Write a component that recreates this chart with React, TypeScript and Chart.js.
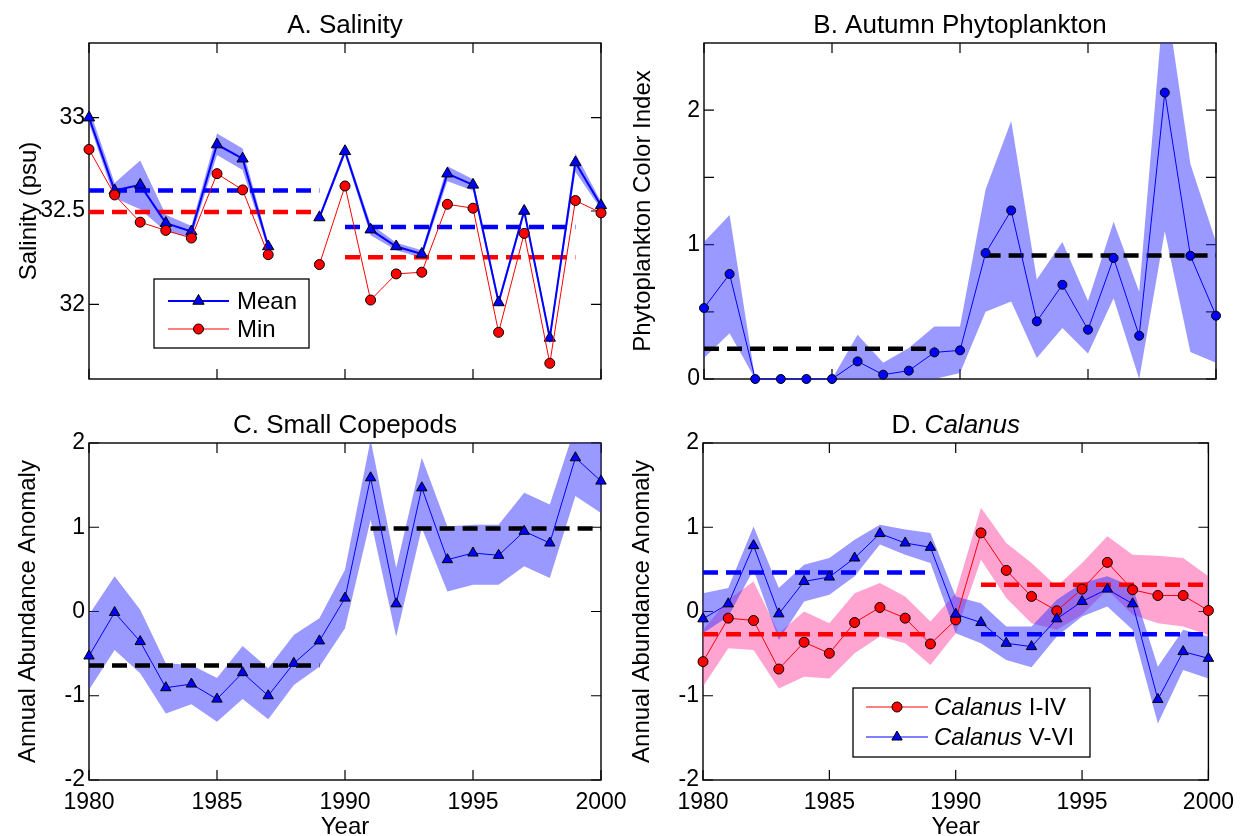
import React, { useEffect, useRef } from 'react';
import { Chart, registerables } from 'chart.js';

Chart.register(...registerables);

const FONT = "'Liberation Sans', Arial, Helvetica, sans-serif";
const PAGE_W = 1243;
const PAGE_H = 836;

const years = [1980, 1981, 1982, 1983, 1984, 1985, 1986, 1987, 1988, 1989, 1990, 1991, 1992, 1993, 1994, 1995, 1996, 1997, 1998, 1999, 2000];
const xTickValues = [1980, 1985, 1990, 1995, 2000];

// A. Salinity
const salinityMean = [33.0, 32.61, 32.64, 32.435, 32.39, 32.856, 32.78, 32.31, null, 32.465, 32.82, 32.4, 32.31, 32.27, 32.7, 32.64, 32.01, 32.5, 31.82, 32.76, 32.53];
const salinityMeanUpper = [33.05, 32.65, 32.77, 32.48, 32.42, 32.915, 32.835, 32.33, null, 32.48, 32.84, 32.43, 32.33, 32.29, 32.74, 32.67, 32.03, 32.52, 31.84, 32.81, 32.55];
const salinityMeanLower = [32.97, 32.57, 32.51, 32.39, 32.36, 32.8, 32.72, 32.29, null, 32.45, 32.8, 32.37, 32.29, 32.25, 32.66, 32.61, 31.99, 32.48, 31.8, 32.71, 32.51];
const salinityMin = [32.83, 32.586, 32.44, 32.396, 32.355, 32.7, 32.613, 32.266, null, 32.213, 32.634, 32.023, 32.163, 32.172, 32.536, 32.515, 31.85, 32.38, 31.684, 32.556, 32.49];
const salinityMeanPeriods = [32.61, 32.414];
const salinityMinPeriods = [32.494, 32.252];
const salinityPeriodYears = [[1980, 1989], [1990, 1999]];
const salinityTicks = [32, 32.5, 33];

// B. Autumn Phytoplankton
const phytoIndex = [0.528, 0.781, 0, 0, 0, 0, 0.131, 0.032, 0.062, 0.198, 0.213, 0.937, 1.254, 0.429, 0.701, 0.367, 0.9, 0.322, 2.131, 0.917, 0.471];
const phytoUpper = [1.02, 1.22, 0, 0, 0, 0, 0.33, 0.12, 0.23, 0.39, 0.39, 1.41, 1.92, 0.74, 1.02, 0.58, 1.17, 0.65, 2.9, 1.6, 1.02];
const phytoLower = [0.156, 0.34, 0, 0, 0, 0, 0.0, 0.0, 0.0, 0.0, 0.045, 0.5, 0.577, 0.156, 0.38, 0.19, 0.6, 0.0, 1.1, 0.2, 0.12];
const phytoPeriods = [0.226, 0.919];
const phytoPeriodYears = [[1980, 1989], [1991, 2000]];
const phytoTicks = [0, 0.5, 1, 1.5, 2];

// C. Small Copepods
const copepods = [-0.528, -0.012, -0.357, -0.905, -0.861, -1.04, -0.726, -1.0, -0.615, -0.349, 0.159, 1.587, 0.091, 1.468, 0.615, 0.694, 0.667, 0.952, 0.813, 1.825, 1.548];
const copepodsUpper = [-0.04, 0.417, 0.02, -0.615, -0.635, -0.79, -0.41, -0.675, -0.28, -0.08, 0.496, 2.04, 0.516, 1.825, 1.01, 1.03, 1.03, 1.41, 1.27, 2.2, 2.0];
const copepodsLower = [-0.93, -0.456, -0.734, -1.21, -1.1, -1.31, -1.04, -1.28, -0.873, -0.655, -0.198, 1.09, -0.3, 0.992, 0.238, 0.317, 0.317, 0.536, 0.397, 1.37, 1.17];
const copepodsPeriods = [-0.64, 0.984];
const periodYears = [[1980, 1989], [1991, 2000]];
const anomalyTicks = [-2, -1, 0, 1, 2];

// D. Calanus
const calanusI_IV = [-0.595, -0.079, -0.107, -0.683, -0.365, -0.496, -0.131, 0.048, -0.079, -0.385, -0.099, 0.933, 0.488, 0.179, 0.008, 0.266, 0.583, 0.258, 0.19, 0.19, 0.012];
const calanusI_IVUpper = [-0.22, 0.139, 0.357, -0.258, 0.0, -0.139, 0.218, 0.337, 0.179, -0.119, 0.218, 1.23, 0.813, 0.575, 0.298, 0.575, 0.893, 0.675, 0.663, 0.635, 0.417];
const calanusI_IVLower = [-0.89, -0.437, -0.456, -0.913, -0.774, -0.794, -0.496, -0.298, -0.377, -0.635, -0.258, 0.615, 0.159, -0.139, -0.218, -0.04, 0.258, -0.04, -0.139, -0.179, -0.278];
const calanusV_VI = [-0.087, 0.091, 0.782, -0.028, 0.357, 0.409, 0.635, 0.925, 0.813, 0.762, -0.032, -0.131, -0.377, -0.417, -0.087, 0.119, 0.266, 0.091, -1.044, -0.476, -0.556];
const calanusV_VIUpper = [0.218, 0.278, 1.01, 0.278, 0.556, 0.635, 0.853, 1.03, 0.972, 0.933, 0.179, 0.099, -0.179, -0.179, 0.139, 0.337, 0.417, 0.298, -0.655, -0.218, -0.298];
const calanusV_VILower = [-0.258, -0.06, 0.496, -0.337, 0.119, 0.198, 0.417, 0.794, 0.675, 0.575, -0.258, -0.377, -0.575, -0.663, -0.298, -0.06, 0.06, -0.218, -1.33, -0.694, -0.794];
const calanusI_IVPeriods = [-0.27, 0.317];
const calanusV_VIPeriods = [0.464, -0.27];

const BLUE = '#0000ff';
const RED = '#ff0000';
const BLUE_BAND = 'rgba(51,51,255,0.5)';
const PINK_BAND = 'rgba(255,51,153,0.45)';

const toXY = (vals: (number | null)[]) => years.map((x, i) => ({ x, y: vals[i] }));

function band(upper: (number | null)[], lower: (number | null)[], color: string, order: number) {
  return [
    { data: toXY(upper), borderColor: 'rgba(0,0,0,0)', borderWidth: 0, pointRadius: 0, fill: '+1', backgroundColor: color, order, clip: 0 },
    { data: toXY(lower), borderColor: 'rgba(0,0,0,0)', borderWidth: 0, pointRadius: 0, fill: false, order, clip: 0 },
  ];
}

function periods(values: number[], spans: number[][], color: string) {
  return values.map((v, i) => ({
    data: [{ x: spans[i][0], y: v }, { x: spans[i][1], y: v }],
    borderColor: color,
    borderWidth: 4.5,
    borderDash: [15, 8],
    pointRadius: 0,
    fill: false,
    order: 5,
    clip: false,
  }));
}

function series(vals: (number | null)[], color: string, width: number, style: string, radius: number, order: number) {
  return {
    data: toXY(vals),
    borderColor: color,
    borderWidth: width,
    pointStyle: style,
    pointRadius: radius,
    pointBackgroundColor: color,
    pointBorderColor: '#000',
    pointBorderWidth: 1,
    fill: false,
    order,
    clip: false,
    spanGaps: false,
  };
}

type Run = { text: string; italic?: boolean };
type LegendItem = { runs: Run[]; color: string; width: number; style: string; radius: number };
type PanelDef = {
  area: { l: number; t: number; r: number; b: number };
  yMin: number;
  yMax: number;
  yTicks: number[];
  yLabel: (v: number) => string;
  showX: boolean;
  datasets: any[];
  title: Run[];
  yTitle: string;
  yTitleX: number;
  legend?: { box: [number, number, number, number]; rows: number[]; line: [number, number]; textX: number; items: LegendItem[] };
};

function font(size: number, italic = false) {
  return `${italic ? 'italic ' : ''}${size}px ${FONT}`;
}

function drawRuns(ctx: CanvasRenderingContext2D, runs: Run[], x: number, y: number, size: number, align: 'center' | 'left') {
  let total = 0;
  const widths = runs.map((r) => {
    ctx.font = font(size, r.italic);
    const w = ctx.measureText(r.text).width;
    total += w;
    return w;
  });
  let cx = align === 'center' ? x - total / 2 : x;
  ctx.textAlign = 'left';
  runs.forEach((r, i) => {
    ctx.font = font(size, r.italic);
    ctx.fillText(r.text, cx, y);
    cx += widths[i];
  });
}

function drawMarker(ctx: CanvasRenderingContext2D, style: string, x: number, y: number, r: number, color: string) {
  ctx.beginPath();
  if (style === 'triangle') {
    let rad = 0;
    ctx.moveTo(x + Math.sin(rad) * r, y - Math.cos(rad) * r);
    rad += (2 * Math.PI) / 3;
    ctx.lineTo(x + Math.sin(rad) * r, y - Math.cos(rad) * r);
    rad += (2 * Math.PI) / 3;
    ctx.lineTo(x + Math.sin(rad) * r, y - Math.cos(rad) * r);
    ctx.closePath();
  } else {
    ctx.arc(x, y, r, 0, Math.PI * 2);
  }
  ctx.fillStyle = color;
  ctx.fill();
  ctx.strokeStyle = '#000';
  ctx.lineWidth = 1;
  ctx.stroke();
}

const YW = 70;
const XH = 50;

function Panel({ def }: { def: PanelDef }) {
  const ref = useRef<HTMLCanvasElement>(null);
  useEffect(() => {
    const canvas = ref.current!;
    const { area } = def;
    const plugin = {
      id: 'matlabFrame',
      beforeDatasetsDraw(chart: any) {
        const ctx: CanvasRenderingContext2D = chart.ctx;
        const { left, top, right, bottom } = chart.chartArea;
        const xs = chart.scales.x;
        const ys = chart.scales.y;
        ctx.save();
        ctx.strokeStyle = '#000';
        ctx.lineWidth = 1.4;
        ctx.strokeRect(left, top, right - left, bottom - top);
        ctx.lineWidth = 1.2;
        ctx.beginPath();
        for (const t of xs.ticks) {
          const px = xs.getPixelForValue(t.value);
          ctx.moveTo(px, bottom);
          ctx.lineTo(px, bottom - 10);
          ctx.moveTo(px, top);
          ctx.lineTo(px, top + 10);
        }
        for (const t of ys.ticks) {
          const py = ys.getPixelForValue(t.value);
          ctx.moveTo(left, py);
          ctx.lineTo(left + 10, py);
          ctx.moveTo(right, py);
          ctx.lineTo(right - 10, py);
        }
        ctx.stroke();
        ctx.restore();
      },
      afterDraw(chart: any) {
        const ctx: CanvasRenderingContext2D = chart.ctx;
        const { left, top, right, bottom } = chart.chartArea;
        const cx = (left + right) / 2;
        ctx.save();
        ctx.fillStyle = '#000';
        ctx.textBaseline = 'alphabetic';
        drawRuns(ctx, def.title, cx, top - 10, 26, 'center');
        // y title
        ctx.save();
        ctx.translate(def.yTitleX, (top + bottom) / 2);
        ctx.rotate(-Math.PI / 2);
        ctx.font = font(24);
        ctx.textAlign = 'center';
        ctx.textBaseline = 'middle';
        ctx.fillText(def.yTitle, 0, 0);
        ctx.restore();
        if (def.showX) {
          ctx.font = font(24);
          ctx.textAlign = 'center';
          ctx.textBaseline = 'alphabetic';
          ctx.fillText('Year', cx, PAGE_H - 2);
        }
        if (def.legend) {
          const lg = def.legend;
          const [bx0, by0, bx1, by1] = lg.box;
          ctx.fillStyle = '#fff';
          ctx.fillRect(bx0, by0, bx1 - bx0, by1 - by0);
          ctx.strokeStyle = '#000';
          ctx.lineWidth = 1.3;
          ctx.strokeRect(bx0, by0, bx1 - bx0, by1 - by0);
          lg.items.forEach((it, i) => {
            const y = lg.rows[i];
            ctx.strokeStyle = it.color;
            ctx.lineWidth = it.width;
            ctx.beginPath();
            ctx.moveTo(lg.line[0], y);
            ctx.lineTo(lg.line[1], y);
            ctx.stroke();
            drawMarker(ctx, it.style, (lg.line[0] + lg.line[1]) / 2, y, it.radius, it.color);
            ctx.fillStyle = '#000';
            ctx.textBaseline = 'middle';
            drawRuns(ctx, it.runs, lg.textX, y + 1, 24, 'left');
          });
        }
        ctx.restore();
      },
    };

    const chart = new Chart(canvas, {
      type: 'line',
      data: { datasets: def.datasets },
      options: {
        animation: false,
        responsive: false,
        maintainAspectRatio: false,
        events: [],
        layout: {
          autoPadding: false,
          padding: { left: area.l - YW, top: area.t, right: PAGE_W - area.r, bottom: PAGE_H - area.b - XH },
        },
        plugins: { legend: { display: false }, tooltip: { enabled: false }, title: { display: false } },
        elements: { line: { tension: 0 } },
        scales: {
          x: {
            type: 'linear',
            min: 1980,
            max: 2000,
            grid: { display: false, drawTicks: false },
            border: { display: false },
            afterBuildTicks: (s: any) => {
              s.ticks = xTickValues.map((v) => ({ value: v }));
            },
            afterFit: (s: any) => {
              s.height = XH;
            },
            ticks: {
              display: def.showX,
              maxRotation: 0,
              autoSkip: false,
              padding: 9,
              color: '#000',
              font: { family: FONT, size: 23 },
              callback: (v: any) => String(v),
            },
          },
          y: {
            type: 'linear',
            min: def.yMin,
            max: def.yMax,
            grid: { display: false, drawTicks: false },
            border: { display: false },
            afterBuildTicks: (s: any) => {
              s.ticks = def.yTicks.map((v) => ({ value: v }));
            },
            afterFit: (s: any) => {
              s.width = YW;
            },
            ticks: {
              autoSkip: false,
              padding: 4,
              color: '#000',
              font: { family: FONT, size: 23 },
              callback: (v: any) => def.yLabel(Number(v)),
            },
          },
        },
      },
      plugins: [plugin],
    } as any);
    return () => chart.destroy();
  }, [def]);
  return (
    <canvas
      ref={ref}
      width={PAGE_W}
      height={PAGE_H}
      style={{ position: 'absolute', left: 0, top: 0, width: PAGE_W, height: PAGE_H }}
    />
  );
}

const panels: PanelDef[] = [
  {
    area: { l: 89, t: 43, r: 601, b: 379 },
    yMin: 31.6,
    yMax: 33.4,
    yTicks: salinityTicks,
    yLabel: (v) => String(v),
    showX: false,
    title: [{ text: 'A. Salinity' }],
    yTitle: 'Salinity (psu)',
    yTitleX: 29,
    datasets: [
      ...band(salinityMeanUpper, salinityMeanLower, BLUE_BAND, 10),
      ...periods(salinityMeanPeriods, salinityPeriodYears, BLUE),
      ...periods(salinityMinPeriods, salinityPeriodYears, RED),
      series(salinityMean, BLUE, 2, 'triangle', 6.5, 2),
      series(salinityMin, RED, 1, 'circle', 5, 1),
    ],
    legend: {
      box: [154, 279, 309, 348],
      rows: [301, 329],
      line: [168, 229],
      textX: 237,
      items: [
        { runs: [{ text: 'Mean' }], color: BLUE, width: 2, style: 'triangle', radius: 6.5 },
        { runs: [{ text: 'Min' }], color: RED, width: 1, style: 'circle', radius: 5 },
      ],
    },
  },
  {
    area: { l: 704, t: 43, r: 1216, b: 379 },
    yMin: 0,
    yMax: 2.5,
    yTicks: phytoTicks,
    yLabel: (v) => (Number.isInteger(v) ? String(v) : ''),
    showX: false,
    title: [{ text: 'B. Autumn Phytoplankton' }],
    yTitle: 'Phytoplankton Color Index',
    yTitleX: 643,
    datasets: [
      ...band(phytoUpper, phytoLower, BLUE_BAND, 10),
      ...periods(phytoPeriods, phytoPeriodYears, '#000'),
      series(phytoIndex, BLUE, 1, 'circle', 4.5, 1),
    ],
  },
  {
    area: { l: 89, t: 443, r: 601, b: 780 },
    yMin: -2,
    yMax: 2,
    yTicks: anomalyTicks,
    yLabel: (v) => String(v),
    showX: true,
    title: [{ text: 'C. Small Copepods' }],
    yTitle: 'Annual Abundance Anomaly',
    yTitleX: 28,
    datasets: [
      ...band(copepodsUpper, copepodsLower, BLUE_BAND, 10),
      ...periods(copepodsPeriods, periodYears, '#000'),
      series(copepods, BLUE, 1, 'triangle', 6, 1),
    ],
  },
  {
    area: { l: 703, t: 443, r: 1216, b: 780 },
    yMin: -2,
    yMax: 2,
    yTicks: anomalyTicks,
    yLabel: (v) => String(v),
    showX: true,
    title: [{ text: 'D. ' }, { text: 'Calanus', italic: true }],
    yTitle: 'Annual Abundance Anomaly',
    yTitleX: 642,
    datasets: [
      ...band(calanusI_IVUpper, calanusI_IVLower, PINK_BAND, 11),
      ...band(calanusV_VIUpper, calanusV_VILower, BLUE_BAND, 10),
      ...periods(calanusI_IVPeriods, periodYears, RED),
      ...periods(calanusV_VIPeriods, periodYears, BLUE),
      series(calanusI_IV, RED, 1, 'circle', 5, 2),
      series(calanusV_VI, BLUE, 1, 'triangle', 6, 1),
    ],
    legend: {
      box: [853, 688, 1090, 757],
      rows: [707, 737],
      line: [866, 928],
      textX: 934,
      items: [
        { runs: [{ text: 'Calanus', italic: true }, { text: ' I-IV' }], color: RED, width: 1, style: 'circle', radius: 5 },
        { runs: [{ text: 'Calanus', italic: true }, { text: ' V-VI' }], color: BLUE, width: 1, style: 'triangle', radius: 6 },
      ],
    },
  },
];

export default function App() {
  return (
    <div style={{ position: 'absolute', left: 0, top: 0, width: PAGE_W, height: PAGE_H, background: '#fff', overflow: 'hidden' }}>
      {panels.map((p, i) => (
        <Panel key={i} def={p} />
      ))}
    </div>
  );
}
